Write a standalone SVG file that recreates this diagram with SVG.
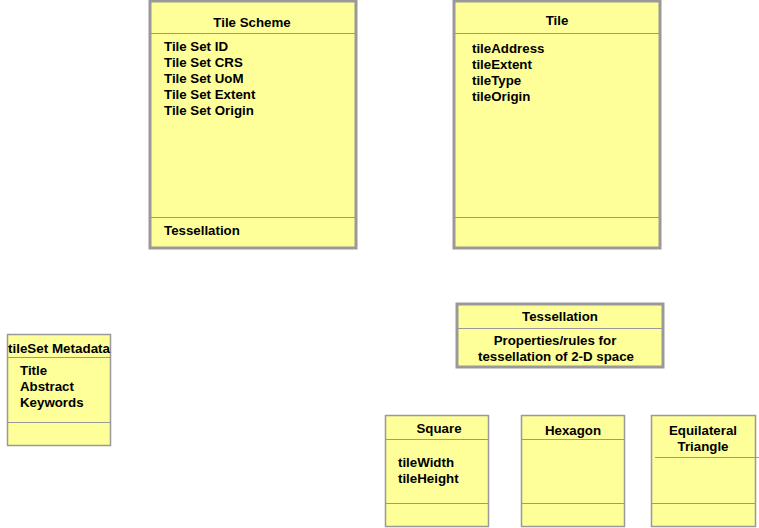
<svg xmlns="http://www.w3.org/2000/svg" width="759" height="528" viewBox="0 0 759 528">
<style>
.box{fill:#ffff99;stroke:#999999;stroke-width:1.5}
.big{fill:#ffff99;stroke:#999999;stroke-width:3}
.ln{stroke:#999999;stroke-width:1.2;fill:none}
text{font-family:"Liberation Sans",Arial,sans-serif;font-size:13.3px;font-weight:bold;fill:#000}
.c{text-anchor:middle}
</style>
<rect width="759" height="528" fill="#ffffff"/>
<g id="connectors"></g>
<g id="tileScheme">
<rect class="big" x="150" y="1" width="206" height="247"/>
<line class="ln" x1="151" y1="33.5" x2="355" y2="33.5"/>
<line class="ln" x1="151" y1="217.5" x2="355" y2="217.5"/>
<text class="c" x="252" y="27">Tile Scheme</text>
<text x="164" y="51">Tile Set ID</text>
<text x="164" y="67">Tile Set CRS</text>
<text x="164" y="83">Tile Set UoM</text>
<text x="164" y="99">Tile Set Extent</text>
<text x="164" y="115">Tile Set Origin</text>
<text x="164" y="235">Tessellation</text>
</g>
<g id="tile">
<rect class="big" x="454" y="1" width="206" height="247"/>
<line class="ln" x1="455" y1="33.5" x2="659" y2="33.5"/>
<line class="ln" x1="455" y1="217.5" x2="659" y2="217.5"/>
<text class="c" x="557" y="25">Tile</text>
<text x="472" y="53">tileAddress</text>
<text x="472" y="69">tileExtent</text>
<text x="472" y="85">tileType</text>
<text x="472" y="101">tileOrigin</text>
</g>
<g id="tessellation">
<rect class="big" x="457" y="304" width="206" height="63" stroke-width="2"/>
<line class="ln" x1="458" y1="328.5" x2="662" y2="328.5"/>
<text class="c" x="560" y="321">Tessellation</text>
<text class="c" x="555" y="345">Properties/rules for</text>
<text class="c" x="556" y="361">tessellation of 2-D space</text>
</g>
<g id="tileSetMetadata">
<rect class="box" x="7.5" y="334.5" width="103" height="111"/>
<line class="ln" x1="8" y1="357.5" x2="110" y2="357.5"/>
<line class="ln" x1="8" y1="422.5" x2="110" y2="422.5"/>
<text x="8" y="353" textLength="102" lengthAdjust="spacingAndGlyphs">tileSet Metadata</text>
<text x="20" y="375">Title</text>
<text x="20" y="391">Abstract</text>
<text x="20" y="407">Keywords</text>
</g>
<g id="square">
<rect class="box" x="385.5" y="415.5" width="103" height="111"/>
<line class="ln" x1="386" y1="439.5" x2="488" y2="439.5"/>
<line class="ln" x1="386" y1="503.5" x2="488" y2="503.5"/>
<text class="c" x="439" y="433">Square</text>
<text x="398" y="467">tileWidth</text>
<text x="398" y="483">tileHeight</text>
</g>
<g id="hexagon">
<rect class="box" x="521.5" y="415.5" width="103" height="111"/>
<line class="ln" x1="522" y1="439.5" x2="624" y2="439.5"/>
<line class="ln" x1="522" y1="503.5" x2="624" y2="503.5"/>
<text class="c" x="573" y="435">Hexagon</text>
</g>
<g id="triangle">
<rect class="box" x="651.5" y="415.5" width="104" height="111"/>
<line class="ln" x1="655" y1="457.5" x2="759" y2="457.5"/>
<line class="ln" x1="652" y1="503.5" x2="755" y2="503.5"/>
<text class="c" x="703" y="435">Equilateral</text>
<text class="c" x="703" y="451">Triangle</text>
</g>
</svg>
